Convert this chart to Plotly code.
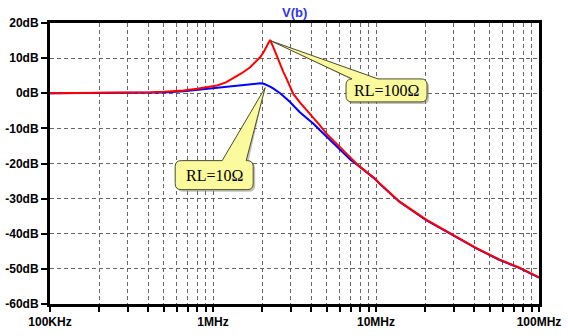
import numpy as np
import plotly.graph_objects as go

# ---- data ----
freq_hz = [1e5, 2e5, 3e5, 4.14e5, 5e5, 6.6e5, 8e5, 9.3e5, 1.06e6, 1.2e6, 1.34e6, 1.5e6,
           1.69e6, 1.86e6, 1.95e6, 2.05e6, 2.14e6, 2.24e6, 2.35e6, 2.46e6, 2.58e6, 2.7e6,
           2.83e6, 2.97e6, 3.11e6, 3.41e6, 3.93e6, 4.12e6, 4.5e6, 4.97e6, 5.6e6, 6.28e6,
           7.0e6, 7.94e6, 9.8e6, 1.05e7, 1.39e7, 2.03e7, 2.95e7, 4.1e7, 5.69e7, 7.54e7, 1e8]
rl100_db = [0.0, 0.05, 0.1, 0.3, 0.45, 0.8, 1.3, 1.7, 2.2, 3.1, 4.3, 5.7,
            7.4, 9.3, 10.3, 11.8, 13.4, 15.2, 13.0, 10.6, 8.3, 6.1,
            4.1, 1.9, -0.2, -2.6, -5.8, -6.9, -9.0, -11.5, -14.0, -16.2,
            -18.4, -20.9, -24.2, -25.6, -30.8, -36.0, -40.2, -44.0, -47.3, -49.6, -52.4]
rl10_db = [0.0, 0.02, 0.05, 0.1, 0.2, 0.6, 1.0, 1.35, 1.7, 1.95, 2.2, 2.5,
           2.75, 2.9, 2.85, 2.7, 2.4, 1.9, 1.3, 0.7, 0.0, -0.8,
           -1.6, -2.5, -3.5, -5.4, -7.8, -8.6, -10.4, -12.4, -14.8, -17.1,
           -19.0, -20.9, -24.3, -25.7, -30.9, -36.1, -40.3, -44.1, -47.4, -49.7, -52.5]

x_tickvals = [1e5, 1e6, 1e7, 1e8]
x_ticktext = ["100KHz", "1MHz", "10MHz", "100MHz"]
x_minor = [m * 10 ** d for d in range(5, 8) for m in range(2, 10)]
y_tickvals = list(range(-60, 30, 10))
y_ticktext = [f"{v}dB" for v in y_tickvals]

title_text = "V(b)"
callout_100 = dict(text="RL=100Ω", f=2.27e6, db=14.9)
callout_10 = dict(text="RL=10Ω", f=2.09e6, db=1.6)

fig = go.Figure()
fig.add_trace(go.Scatter(x=freq_hz, y=rl10_db, mode="lines",
                         line=dict(color="#0000ff", width=2), name="RL=10Ω"))
fig.add_trace(go.Scatter(x=freq_hz, y=rl100_db, mode="lines",
                         line=dict(color="#ff0000", width=2), name="RL=100Ω"))

tickfont = dict(family="Liberation Sans, Arial", size=12, color="black", weight="bold")
grid = dict(showgrid=True, gridcolor="#666666", gridwidth=1, griddash="4px,3px")

fig.update_xaxes(type="log", range=[5, 8], tickvals=x_tickvals, ticktext=x_ticktext,
                 ticks="outside", ticklen=5, tickwidth=2, tickcolor="black",
                 showline=True, linecolor="black", linewidth=3, mirror=True,
                 tickfont=tickfont, ticklabelstandoff=0, zeroline=False, automargin=False,
                 minor=dict(tickvals=x_minor, ticks="outside", ticklen=5, tickwidth=2,
                            tickcolor="black", **grid),
                 **grid)
fig.update_yaxes(range=[-60, 20], tickvals=y_tickvals, ticktext=y_ticktext,
                 ticks="outside", ticklen=6, tickwidth=2, tickcolor="black",
                 showline=True, linecolor="black", linewidth=3, mirror=True,
                 tickfont=tickfont, zeroline=False, automargin=False, **grid)


def callout_path(L, R, T, B, wl, wr, r=6):
    return (f"M {L + r},{T} L {wl},{T} L 0,0 L {wr},{T} L {R - r},{T} "
            f"Q {R},{T} {R},{T - r} L {R},{B + r} Q {R},{B} {R - r},{B} "
            f"L {L + r},{B} Q {L},{B} {L},{B + r} L {L},{T - r} Q {L},{T} {L + r},{T} Z")


def add_callout(c, L, R, T, B, wl, wr):
    for dx, dy, fill, line in [(2, -2, "rgba(120,120,100,0.45)", "rgba(0,0,0,0)"),
                               (0, 0, "#fbfb9e", "#4a4a2e")]:
        fig.add_shape(type="path", xref="x", yref="y", xsizemode="pixel", ysizemode="pixel",
                      xanchor=c["f"], yanchor=c["db"],
                      path=callout_path(L + dx, R + dx, T + dy, B + dy, wl + dx, wr + dx),
                      fillcolor=fill, line=dict(color=line, width=1), layer="above")
    fig.add_annotation(x=np.log10(c["f"]), y=c["db"], xref="x", yref="y",
                       text=c["text"], showarrow=False,
                       xshift=(L + R) / 2, yshift=(T + B) / 2,
                       font=dict(family="Liberation Serif, Times New Roman", size=16, color="black"))


add_callout(callout_100, 75, 156, -38, -61, 81, 107)
add_callout(callout_10, -90, -12, -73, -102, -43, -19)

fig.add_annotation(x=0.5, y=1, xref="paper", yref="paper", yanchor="bottom", yshift=1,
                   text=title_text, showarrow=False,
                   font=dict(family="Liberation Sans, Arial", size=13, color="#3333ee", weight="bold"))

fig.update_layout(width=568, height=336, margin=dict(l=50, r=29, t=23, b=32),
                  paper_bgcolor="white", plot_bgcolor="white", showlegend=False)

fig.write_html("out.html")
